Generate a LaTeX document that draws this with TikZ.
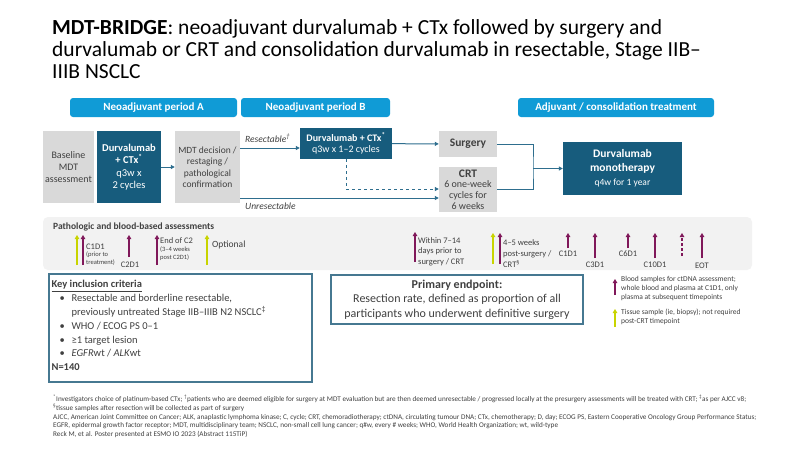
\documentclass[tikz,border=0pt]{standalone}
\usepackage{fontspec}
\setmainfont{Carlito}
\usetikzlibrary{arrows.meta}
\usetikzlibrary{positioning}
\usetikzlibrary{calc}

\definecolor{hdrblue}{RGB}{16,155,214}
\definecolor{darkteal}{RGB}{23,92,125}
\definecolor{boxgray}{RGB}{217,217,217}
\definecolor{panelgray}{RGB}{242,242,242}
\definecolor{lineteal}{RGB}{46,110,142}
\definecolor{framegray}{RGB}{70,120,145}
\definecolor{bloodpurple}{RGB}{128,24,90}
\definecolor{tissuelime}{RGB}{200,212,0}
\definecolor{txtgray}{RGB}{64,64,64}
\newcommand{\fsz}[2]{\fontsize{#1}{#2}\selectfont}

\begin{document}
\begin{tikzpicture}[x=1pt,y=-1pt,
  hdr/.style={fill=hdrblue,rounded corners=3pt,text=white,font=\fsz{11}{13}\bfseries,minimum height=19pt,inner sep=0pt},
  graybox/.style={fill=boxgray,text=txtgray,align=center,inner sep=0pt},
  darkbox/.style={fill=darkteal,text=white,align=center,inner sep=0pt},
  flow/.style={draw=lineteal,line width=1pt,-{Triangle[length=4pt,width=4pt]}},
  flowline/.style={draw=lineteal,line width=1pt},
  blood/.style={draw=bloodpurple,line width=1.3pt,-{Triangle[length=4pt,width=4.5pt]}},
  tissue/.style={draw=tissuelime,line width=1.3pt,-{Triangle[length=4pt,width=4.5pt]}},
  tick/.style={text=txtgray,inner sep=0pt,font=\fsz{8.5}{10}},
  small/.style={text=txtgray,inner sep=0pt,align=left,font=\fsz{6.5}{7.5}},
  foot/.style={anchor=west,inner sep=0pt,text=txtgray,font=\fsz{7.2}{8}}]
  \useasboundingbox[fill=white] (0,0) rectangle (795,451);

  \node[anchor=north west,align=left,inner sep=0pt,font=\fsz{21.5}{22}] (title) at (52,19)
    {\textbf{MDT-BRIDGE}: neoadjuvant durvalumab + CTx followed by surgery and\\durvalumab or CRT and consolidation durvalumab in resectable, Stage IIB–\\IIIB NSCLC};

  \node[hdr,minimum width=167pt] (hdrA) at (153.5,107.5) {Neoadjuvant period A};
  \node[hdr,minimum width=149pt] (hdrB) at (315.5,107.5) {Neoadjuvant period B};
  \node[hdr,minimum width=196pt] (hdrC) at (616,107.5) {Adjuvant / consolidation treatment};

  \node[graybox,minimum width=51pt,minimum height=72pt,font=\fsz{10}{12}] (base) at (68.5,167) {Baseline\\MDT\\assessment};
  \node[darkbox,minimum width=64pt,minimum height=72pt,font=\fsz{10.5}{12.5}] (durvA) at (129,167) {\textbf{Durvalumab}\\\textbf{+ CTx\textsuperscript{*}}\\q3w x\\2 cycles};
  \node[graybox,minimum width=65pt,minimum height=72pt,font=\fsz{9.5}{11.5}] (mdt) at (207.5,167) {MDT decision /\\restaging /\\pathological\\confirmation};
  \node[darkbox,minimum width=92pt,minimum height=31pt,font=\fsz{10}{11}] (durvB) at (346,143.5) {\textbf{Durvalumab + CTx\textsuperscript{*}}\\q3w x 1–2 cycles};
  \node[graybox,minimum width=58pt,minimum height=26pt,font=\fsz{11.5}{13}\bfseries] (surg) at (468,144) {Surgery};
  \node[graybox,minimum width=58pt,minimum height=45pt,font=\fsz{10}{10.7}] (crt) at (468,189.5) {{\fsz{11.5}{12}\bfseries CRT}\\6 one-week\\cycles for\\6 weeks};
  \node[darkbox,minimum width=119pt,minimum height=53pt,font=\fsz{11.5}{14}\bfseries] (mono) at (622.5,168.5) {Durvalumab\\monotherapy\\{\fsz{9.5}{12}\mdseries q4w for 1 year}};

  \draw[flow] (durvA) -- (mdt);
  \draw[flow] (mdt.east |- 0,148) -- (durvB.west |- 0,148);
  \draw[flow] (mdt.east |- 0,198) -- (crt.west |- 0,198);
  \draw[flow,dashed] (durvB.south) |- (crt.west |- 0,189);
  \draw[flow] (durvB) -- (surg);
  \coordinate (join) at (533,168.5);
  \draw[flowline] (surg.east) -| (join) |- (crt.east |- 0,189);
  \draw[flow] (join) -- (mono);
  \node[text=txtgray,font=\fsz{9.5}{11}\itshape,inner sep=0pt,anchor=west] (resect) at (245,138) {Resectable\textsuperscript{†}};
  \node[text=txtgray,font=\fsz{9.5}{11}\itshape,inner sep=0pt,anchor=west] (unresect) at (245,206) {Unresectable};

  \fill[panelgray,rounded corners=5pt] (43,217) rectangle (752,270);
  \node[anchor=west,inner sep=0pt,text=txtgray,font=\fsz{9.5}{11}\bfseries] (pathtitle) at (53,227) {Pathologic and blood-based assessments};

  \draw[tissue] (77,265) -- (77,235);
  \draw[blood] (83,265) -- (83,235);
  \node[tick,anchor=west] (c1d1a) at (86,247) {C1D1};
  \node[small,anchor=north west] (prior) at (86,252) {(prior to\\treatment)};
  \draw[blood] (129,257) -- (129,235);
  \node[tick] (c2d1) at (130,265) {C2D1};
  \draw[blood] (157,265) -- (157,235);
  \node[tick,anchor=west] (endc2) at (160,241) {End of C2};
  \node[small,anchor=north west] (weeks) at (160,247) {(3–4 weeks\\post C2D1)};
  \draw[tissue] (207,265) -- (207,235);
  \node[tick,anchor=west,font=\fsz{9.5}{11}] (optional) at (212,245) {Optional};

  \draw[blood] (415,262) -- (415,232);
  \node[tick,anchor=north west,align=left,font=\fsz{8.5}{10.7}] (within) at (418,237) {Within 7–14\\days prior to\\surgery / CRT};
  \draw[tissue] (493,264) -- (493,233);
  \draw[blood] (500,264) -- (500,233);
  \node[tick,anchor=north west,align=left,font=\fsz{8.5}{11}] (post) at (503,239) {4–5 weeks\\post-surgery /\\CRT\textsuperscript{§}};
  \draw[blood] (568,248) -- (568,233);
  \node[tick] (c1d1b) at (568,254) {C1D1};
  \draw[blood] (595,258) -- (595,233);
  \node[tick] (c3d1) at (595,265) {C3D1};
  \draw[blood] (628,248) -- (628,233);
  \node[tick] (c6d1) at (628,254) {C6D1};
  \draw[blood] (655,258) -- (655,233);
  \node[tick] (c10d1) at (655,265) {C10D1};
  \draw[blood,dash pattern=on 3pt off 2pt] (682,256) -- (682,233);
  \draw[blood] (702,258) -- (702,233);
  \node[tick] (eot) at (702,266) {EOT};

  \node[draw=framegray,line width=1.2pt,fill=white,minimum width=263pt,minimum height=108pt,inner sep=0pt] (critbox) at (180.5,328) {};
  \node[anchor=north west,align=left,inner sep=0pt,text=txtgray,font=\fsz{10.5}{13.8}] (crit) at ([shift={(3,7)}]critbox.north west)
    {\underline{\textbf{Key inclusion criteria}}\\
     \hspace*{8pt}\makebox[12pt][l]{•}Resectable and borderline resectable,\\
     \hspace*{20pt}previously untreated Stage IIB–IIIB N2 NSCLC\textsuperscript{‡}\\
     \hspace*{8pt}\makebox[12pt][l]{•}WHO / ECOG PS 0–1\\
     \hspace*{8pt}\makebox[12pt][l]{•}≥1 target lesion\\
     \hspace*{8pt}\makebox[12pt][l]{•}\textit{EGFR}wt / \textit{ALK}wt\\
     \textbf{N=140}};

  \node[draw=framegray,line width=1.2pt,minimum width=252pt,minimum height=49pt,align=center,text=txtgray,font=\fsz{12}{14.5}] (endpt) at (457,299.5)
    {\textbf{Primary endpoint:}\\Resection rate, defined as proportion of all\\participants who underwent definitive surgery};

  \draw[blood] (615,295) -- (615,279);
  \node[small,anchor=north west,font=\fsz{7.5}{9}] (bloodkey) at (621,276) {Blood samples for ctDNA assessment;\\whole blood and plasma at C1D1, only\\plasma at subsequent timepoints};
  \draw[tissue] (615,327) -- (615,309);
  \node[small,anchor=north west,font=\fsz{7.5}{9}] (tissuekey) at (621,309) {Tissue sample (ie, biopsy); not required\\post-CRT timepoint};

  \node[foot] (fn1) at (53,399) {\textsuperscript{*}Investigators choice of platinum-based CTx; \textsuperscript{†}patients who are deemed eligible for surgery at MDT evaluation but are then deemed unresectable / progressed locally at the presurgery assessments will be treated with CRT; \textsuperscript{‡}as per AJCC v8;};
  \node[foot] (fn2) at (53,408) {\textsuperscript{§}tissue samples after resection will be collected as part of surgery};
  \node[foot] (fn3) at (53,418) {AJCC, American Joint Committee on Cancer; ALK, anaplastic lymphoma kinase; C, cycle; CRT, chemoradiotherapy; ctDNA, circulating tumour DNA; CTx, chemotherapy; D, day; ECOG PS, Eastern Cooperative Oncology Group Performance Status;};
  \node[foot] (fn4) at (53,426) {EGFR, epidermal growth factor receptor; MDT, multidisciplinary team; NSCLC, non-small cell lung cancer; q\#w, every \# weeks; WHO, World Health Organization; wt, wild-type};
  \node[foot] (fn5) at (53,434) {Reck M, et al. Poster presented at ESMO IO 2023 (Abstract 115TiP)};
\end{tikzpicture}
\end{document}
